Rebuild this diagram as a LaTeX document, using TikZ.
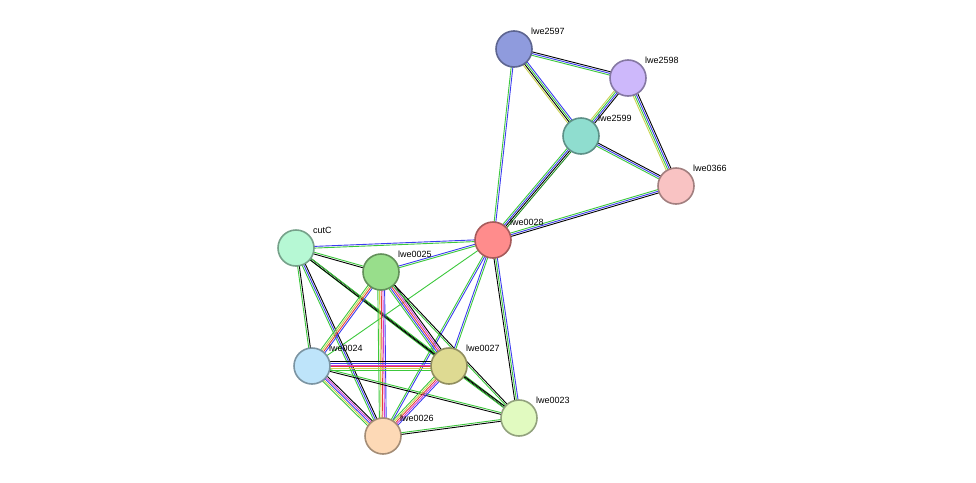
\documentclass[tikz,border=0pt]{standalone}
\usepackage{fontspec}
\setmainfont{Liberation Sans}
\usetikzlibrary{calc}
\definecolor{tmg}{HTML}{C8D24B}
\definecolor{nbg}{HTML}{3CC83C}
\definecolor{cob}{HTML}{3C3CF0}
\definecolor{exm}{HTML}{D23CD2}
\definecolor{fur}{HTML}{E63C3C}
\definecolor{dkg}{HTML}{1E8C1E}
\tikzset{
  prot/.style={circle, minimum size=36pt, inner sep=0pt, line width=1.6pt, fill=#1, draw=#1!65!black},
  lbl/.style={anchor=south west, inner sep=0pt, font=\fontsize{9}{10}\selectfont},
  lnk/.style={line width=0.9pt}
}
% \edge{a}{b}{n}{colours}
\newcommand{\edge}[4]{%
  \foreach \c [count=\i] in {#4} {
    \pgfmathsetmacro{\off}{(\i-1-(#3-1)/2)*1.7}
    \draw[lnk, \c] ($(#1)!\off pt!90:(#2)$) -- ($(#2)!\off pt!-90:(#1)$);
  }}
\begin{document}
\begin{tikzpicture}[x=1pt, y=-1pt]
\useasboundingbox (0,0) rectangle (976,482);
% nodes
\coordinate (lwe2597) at (514,49);
\coordinate (lwe2598) at (628,78);
\coordinate (lwe2599) at (581,136);
\coordinate (lwe0366) at (676,186);
\coordinate (lwe0028) at (493,240);
\coordinate (cutC) at (296,248);
\coordinate (lwe0025) at (381,272);
\coordinate (lwe0024) at (312,366);
\coordinate (lwe0027) at (449,366);
\coordinate (lwe0023) at (519,418);
\coordinate (lwe0026) at (383,436);
% edges
\edge{lwe2597}{lwe2598}{3}{nbg,cob,black}
\edge{lwe2597}{lwe2599}{4}{tmg,black,nbg,cob}
\edge{lwe2597}{lwe0028}{2}{nbg,cob}
\edge{lwe2598}{lwe2599}{4}{tmg,nbg,cob,black}
\edge{lwe2598}{lwe0366}{4}{tmg,nbg,cob,black}
\edge{lwe2599}{lwe0366}{3}{nbg,cob,black}
\edge{lwe2599}{lwe0028}{4}{nbg,cob,black,dkg}
\edge{lwe0366}{lwe0028}{3}{nbg,cob,black}
\edge{lwe0028}{cutC}{2}{cob,nbg}
\edge{lwe0028}{lwe0025}{2}{cob,nbg}
\edge{lwe0028}{lwe0024}{1}{nbg}
\edge{lwe0028}{lwe0027}{2}{cob,nbg}
\edge{lwe0028}{lwe0026}{2}{nbg,cob}
\edge{lwe0028}{lwe0023}{3}{black,nbg,cob}
\edge{cutC}{lwe0025}{2}{black,nbg}
\edge{cutC}{lwe0024}{2}{nbg,black}
\edge{cutC}{lwe0026}{3}{nbg,cob,black}
\edge{cutC}{lwe0027}{2}{nbg,black}
\edge{cutC}{lwe0023}{2}{black,nbg}
\edge{lwe0025}{lwe0024}{4}{nbg,tmg,fur,cob}
\edge{lwe0025}{lwe0027}{5}{nbg,cob,fur,exm,black}
\edge{lwe0025}{lwe0026}{5}{nbg,tmg,fur,exm,cob}
\edge{lwe0025}{lwe0023}{2}{nbg,black}
\edge{lwe0024}{lwe0027}{6}{nbg,tmg,fur,exm,cob,black}
\edge{lwe0024}{lwe0026}{5}{nbg,tmg,cob,exm,black}
\edge{lwe0024}{lwe0023}{2}{black,nbg}
\edge{lwe0027}{lwe0026}{5}{nbg,tmg,fur,exm,cob}
\edge{lwe0027}{lwe0023}{2}{nbg,black}
\edge{lwe0026}{lwe0023}{2}{black,nbg}
% proteins
\foreach \n/\f in {lwe2597/8F9BDD, lwe2598/CDB8FB, lwe2599/8FDDCF, lwe0366/F9C3C3,
  lwe0028/FF8C8C, cutC/B6F8D4, lwe0025/98DE8B, lwe0024/BEE4FA, lwe0027/DEDA92,
  lwe0023/E1FAC0, lwe0026/FDD9B6} {
  \definecolor{pc}{HTML}{\f}
  \node[prot=pc] (p-\n) at (\n) {};
  \node[lbl] (l-\n) at ($(\n)+(17,-14)$) {\n};
}
\end{tikzpicture}
\end{document}
